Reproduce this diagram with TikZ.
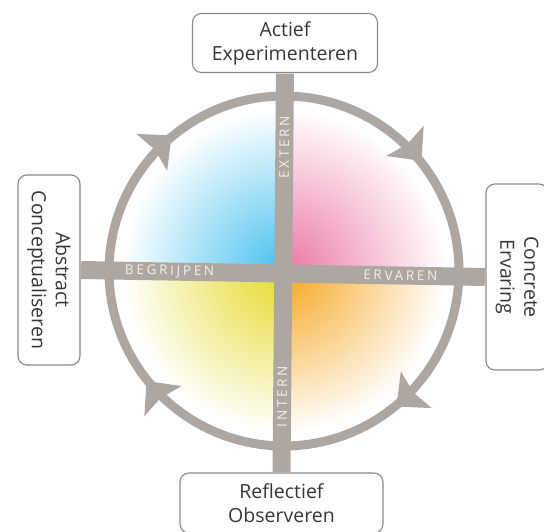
\documentclass[tikz,border=0pt]{standalone}
\usepackage{fontspec}
\setmainfont{Open Sans}
\newfontfamily\barfont[LetterSpace=20]{Open Sans}
\definecolor{ringgray}{RGB}{174,166,161}
\definecolor{boxgray}{RGB}{140,136,134}
\definecolor{textgray}{RGB}{55,55,55}
\definecolor{barwhite}{RGB}{242,239,235}
\definecolor{cyanq}{RGB}{70,192,238}
\definecolor{pinkq}{RGB}{236,118,164}
\definecolor{yellowq}{RGB}{228,218,40}
\definecolor{orangeq}{RGB}{246,166,30}
\begin{document}
\begin{tikzpicture}[x=1pt, y=1pt,
    phase/.style={draw=boxgray, line width=1.1pt, fill=white, rounded corners=9pt,
      text=textgray, align=center, inner sep=0pt, font=\fontsize{19.5}{24}\selectfont},
    bar/.style={draw=ringgray, line width=18pt, shorten <=0.6pt, shorten >=0.6pt},
    ring/.style={draw=ringgray, line width=9pt},
    axislabel/.style={text=barwhite, inner sep=0pt, sloped, font=\barfont\fontsize{13.5}{13.5}\selectfont}]
  \useasboundingbox (0, 0) rectangle (544, 531);
  \coordinate (c) at (284, 260);
  % coloured quarters
  \foreach \a/\col in {0/pinkq, 90/cyanq, 180/yellowq, 270/orangeq} {
    \begin{scope}
      \clip (c) -- ([shift={(\a:171)}]c) arc (\a:\a+90:171) -- cycle;
      \shade[inner color=\col, outer color=white] (c) circle (162);
    \end{scope}
  }
  % the four phases
  \node[phase, minimum width=185pt, minimum height=59pt] (act) at (285, 488) {Actief\\Experimenteren};
  \node[phase, minimum width=203pt, minimum height=60pt] (ref) at (281.5, 28) {Reflectief\\Observeren};
  \node[phase, rotate=-90, minimum width=190pt, minimum height=62pt] (abs) at (49, 261) {Abstract\\Conceptualiseren};
  \node[phase, rotate=-90, minimum width=186pt, minimum height=62pt] (con) at (517, 254) {Concrete\\Ervaring};
  % axes
  \draw[bar] (act.south) -- node[axislabel, pos=0.186] (ext) {EXTERN}
    node[axislabel, pos=0.81] (int) {INTERN} (ref.north);
  \draw[bar] (abs.north) -- node[axislabel, pos=0.22] (beg) {BEGRIJPEN}
    node[axislabel, pos=0.79] (erv) {ERVAREN} (con.south);
  % cycle, clockwise
  \draw[ring] (c) circle (175);
  \foreach \t in {130, 39, -50, -141}
    \fill[ringgray, shift={(c)}, rotate=\t]
      (176, -1) -- (152, 25) -- (176, 21) -- (200, 25) -- cycle;
\end{tikzpicture}
\end{document}
